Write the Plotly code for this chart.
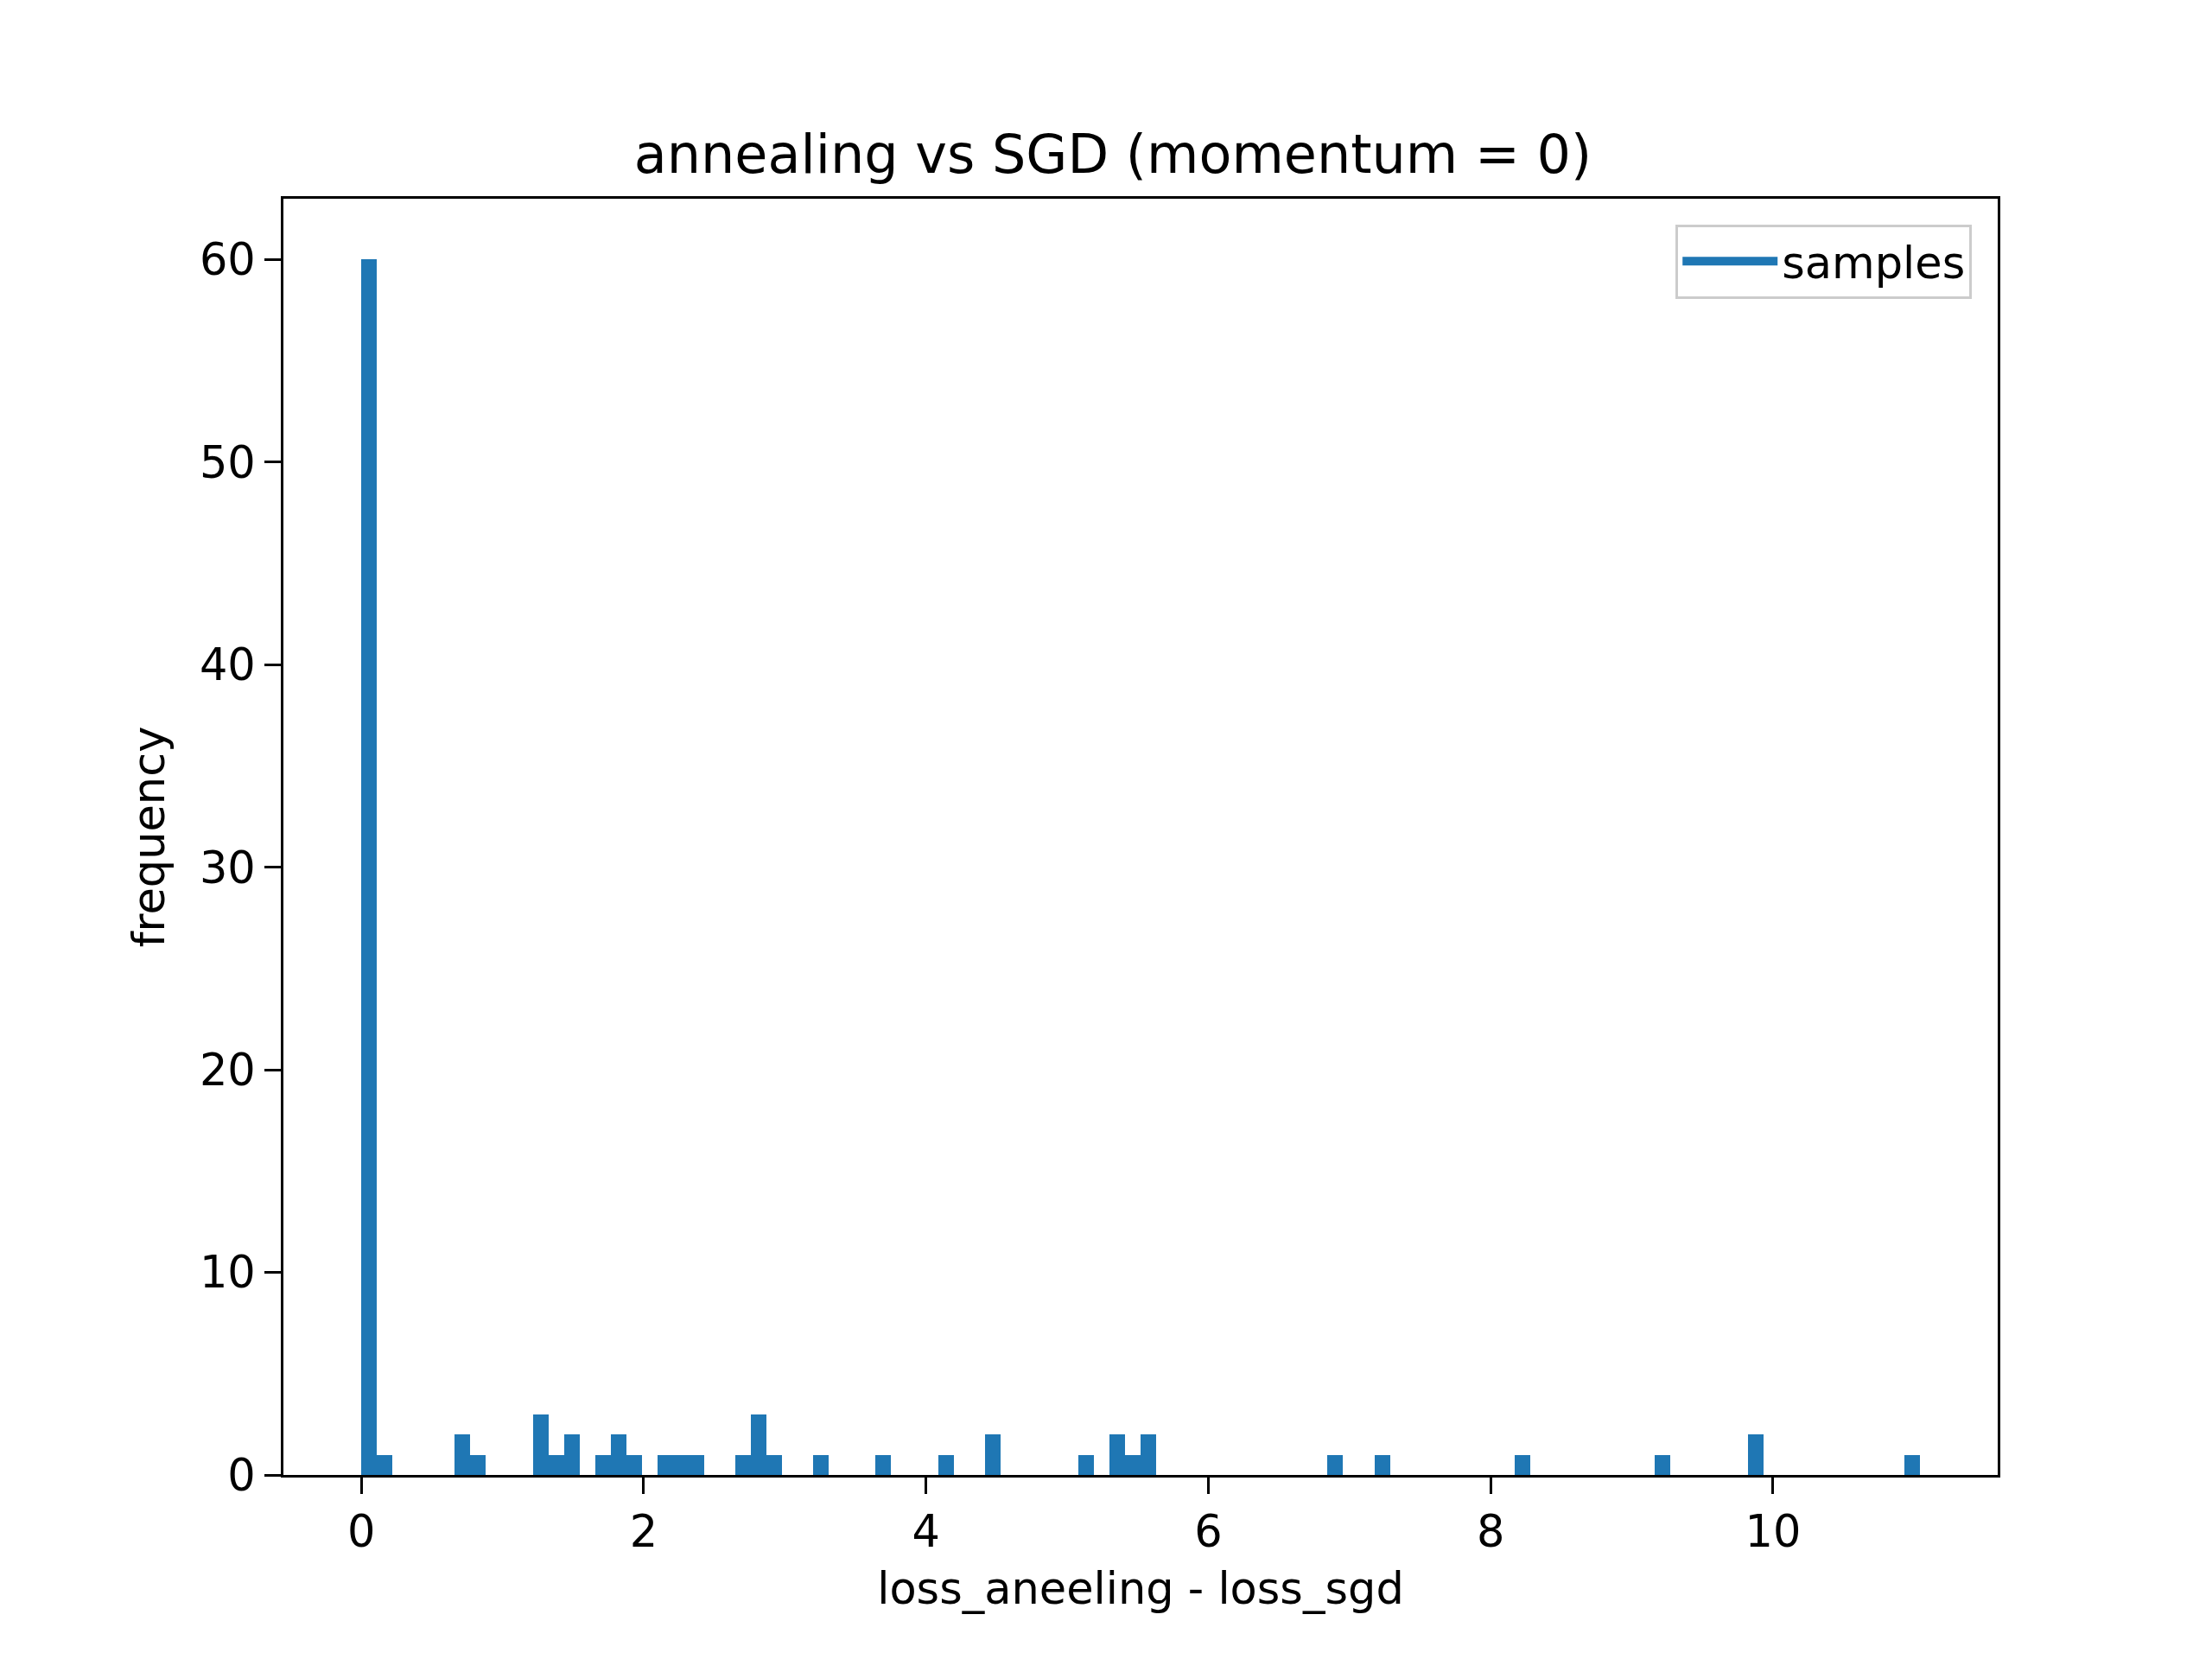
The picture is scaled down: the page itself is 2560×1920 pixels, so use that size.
import plotly.graph_objects as go

# histogram: 100 bins
bin_width = 0.1104
bin_index = [0, 1, 6, 7, 11, 12, 13, 15, 16, 17, 19, 20, 21, 24, 25, 26, 29, 33, 37, 40,
             46, 48, 49, 50, 62, 65, 74, 83, 89, 99]
counts = [60, 1, 2, 1, 3, 1, 2, 1, 2, 1, 1, 1, 1, 1, 3, 1, 1, 1, 1, 2,
          1, 2, 1, 2, 1, 1, 1, 1, 2, 1]

centers = [(i + 0.5) * bin_width for i in bin_index]

fig = go.Figure(go.Bar(x=centers, y=counts, width=bin_width, name='samples',
                       marker=dict(color='#1f77b4', line=dict(width=0)),
                       showlegend=False))
# legend patch like matplotlib's wide rectangle
fig.add_trace(go.Scatter(x=[None], y=[None], mode='lines', name='samples',
                         line=dict(color='#1f77b4', width=36)))

W, H = 2560, 1920
fnt = dict(family='DejaVu Sans', size=51, color='black')
axis = dict(showgrid=False, zeroline=False, showline=True, linecolor='black', linewidth=3,
            mirror=True, ticks='outside', ticklen=19, tickwidth=3, tickcolor='black',
            tickfont=fnt, title_font=fnt)

fig.update_layout(
    width=W, height=H, plot_bgcolor='white', paper_bgcolor='white', font=fnt,
    margin=dict(l=int(0.125 * W), r=int(0.1 * W), t=222, b=221),
    title=dict(text='annealing vs SGD (momentum = 0)', x=0.5, xanchor='center',
               y=0.9, yanchor='bottom', font=dict(family='DejaVu Sans', size=62)),
    xaxis=dict(axis, range=[-0.552, 11.592], tickvals=[0, 2, 4, 6, 8, 10],
               title=dict(text='loss_aneeling - loss_sgd', standoff=20)),
    yaxis=dict(axis, range=[0, 63], tickvals=[0, 10, 20, 30, 40, 50, 60],
               title=dict(text='frequency', standoff=25)),
    legend=dict(x=0.985, y=0.98, xanchor='right', yanchor='top', bgcolor='white',
                bordercolor='#cccccc', borderwidth=3, font=fnt, itemwidth=110),
    bargap=0,
)

fig.write_html('out.html')
